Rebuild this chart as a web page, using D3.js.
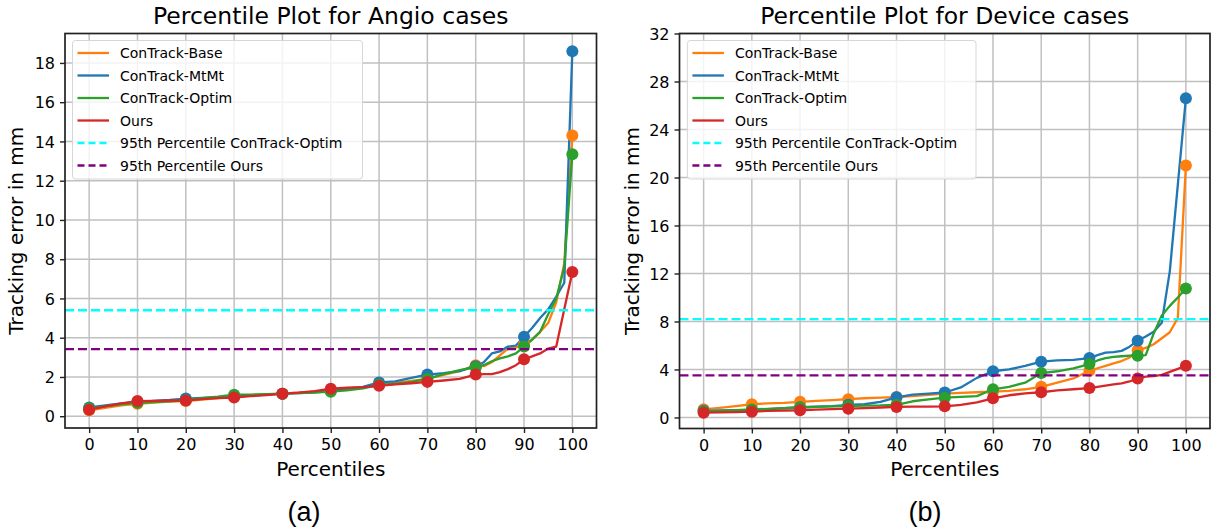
<!DOCTYPE html>
<html>
<head>
<meta charset="utf-8">
<script src="https://cdn.jsdelivr.net/npm/d3@7"></script>
<style>
  html, body { margin: 0; padding: 0; background: #fff; }
  svg { display: block; }
  text { font-family: "DejaVu Sans", sans-serif; fill: #000; }
</style>
</head>
<body>
<svg id="chart" width="1211" height="531"></svg>
<script>
// ---------------- data ----------------
const percentiles = [0,3.33,6.67,10,13.33,16.67,20,23.33,26.67,30,33.33,36.67,40,43.33,46.67,50,53.33,56.67,60,63.33,66.67,70,73.33,76.67,80,81.67,83.33,85,86.67,88.33,90,91.67,93.33,95,96.67,98.33,100];
const xTicks = [0,10,20,30,40,50,60,70,80,90,100];
const seriesNames = ["ConTrack-Base","ConTrack-MtMt","ConTrack-Optim","Ours"];
const refNames = ["95th Percentile ConTrack-Optim","95th Percentile Ours"];

// Angio cases
const angioBase  = [0.30,0.42,0.55,0.63,0.70,0.74,0.77,0.85,0.92,1.00,1.05,1.10,1.15,1.20,1.25,1.30,1.38,1.47,1.60,1.70,1.80,1.90,2.10,2.30,2.60,2.55,2.75,3.10,3.45,3.50,3.65,3.90,4.30,4.75,5.80,7.80,14.30];
const angioMtMt  = [0.45,0.55,0.65,0.72,0.78,0.83,0.90,0.93,0.97,1.00,1.05,1.10,1.15,1.18,1.22,1.30,1.40,1.50,1.72,1.78,1.95,2.12,2.20,2.30,2.55,2.75,3.20,3.30,3.55,3.60,4.05,4.50,5.00,5.45,6.10,6.80,18.60];
const angioOptim = [0.40,0.50,0.60,0.68,0.72,0.76,0.82,0.92,1.00,1.10,1.10,1.13,1.15,1.18,1.20,1.25,1.32,1.42,1.60,1.65,1.75,1.90,2.15,2.35,2.50,2.60,2.80,2.95,3.05,3.20,3.55,3.90,4.30,5.20,6.00,7.60,13.35];
const angioOurs  = [0.33,0.50,0.65,0.77,0.78,0.80,0.80,0.87,0.92,0.95,1.02,1.08,1.15,1.20,1.28,1.40,1.45,1.48,1.55,1.62,1.68,1.75,1.82,1.90,2.12,2.15,2.15,2.25,2.40,2.60,2.90,3.05,3.20,3.45,3.55,5.45,7.35];
const angioYTicks = [0,2,4,6,8,10,12,14,16,18];
const angio95Optim = 5.4;
const angio95Ours = 3.42;

// Device cases
const deviceBase  = [0.68,0.80,0.95,1.10,1.18,1.22,1.30,1.38,1.45,1.52,1.60,1.65,1.70,1.78,1.88,1.98,2.05,2.10,2.15,2.22,2.35,2.55,2.90,3.25,3.90,4.10,4.30,4.50,4.70,5.00,5.60,5.80,6.10,6.60,7.10,8.30,21.00];
const deviceMtMt  = [0.55,0.58,0.60,0.62,0.70,0.78,0.85,0.90,0.95,1.05,1.10,1.30,1.68,1.90,1.98,2.08,2.50,3.30,3.85,4.00,4.30,4.65,4.75,4.80,4.95,5.20,5.40,5.45,5.55,5.90,6.40,6.75,7.15,7.90,12.20,19.40,26.60];
const deviceOptim = [0.50,0.55,0.60,0.67,0.72,0.78,0.83,0.88,0.92,0.95,0.98,1.00,1.05,1.35,1.50,1.65,1.72,1.78,2.35,2.55,2.90,3.70,3.85,4.10,4.45,4.75,4.95,5.05,5.10,5.15,5.15,5.20,7.00,8.50,9.30,10.00,10.75];
const deviceOurs  = [0.40,0.42,0.45,0.48,0.55,0.58,0.60,0.65,0.70,0.73,0.78,0.83,0.88,0.90,0.91,0.93,1.05,1.25,1.60,1.85,2.00,2.10,2.25,2.35,2.45,2.55,2.65,2.75,2.85,3.00,3.25,3.40,3.45,3.55,3.80,4.05,4.30];
const deviceYTicks = [0,4,8,12,16,20,24,28,32];
const device95Optim = 8.2;
const device95Ours = 3.51;

// ---------------- styles ----------------
const seriesColors = ["#ff7f0e","#1f77b4","#2ca02c","#d62728"];
const refColors = ["#00ffff","#800080"];

const panels = [
  { title: "Percentile Plot for Angio cases", caption: "(a)",
    series: [angioBase, angioMtMt, angioOptim, angioOurs],
    refs: [angio95Optim, angio95Ours], yTicks: angioYTicks, yDomain: [-0.6, 19.5],
    left: 65, right: 596.5, top: 33.5, bottom: 428, yLabelX: 23, captionX: 304,
    legendX: 72.5, legendW: 290 },
  { title: "Percentile Plot for Device cases", caption: "(b)",
    series: [deviceBase, deviceMtMt, deviceOptim, deviceOurs],
    refs: [device95Optim, device95Ours], yTicks: deviceYTicks, yDomain: [-0.92, 32],
    left: 679.5, right: 1210, top: 33.5, bottom: 428.5, yLabelX: 639, captionX: 925,
    legendX: 687.4, legendW: 288.6 }
];

const svg = d3.select("#chart");

panels.forEach(p => {
  const x = d3.scaleLinear().domain([-5, 105]).range([p.left, p.right]);
  const y = d3.scaleLinear().domain(p.yDomain).range([p.bottom, p.top]);
  const g = svg.append("g");

  // grid
  g.append("g").selectAll("line").data(xTicks).join("line")
    .attr("x1", d => x(d)).attr("x2", d => x(d))
    .attr("y1", p.top).attr("y2", p.bottom)
    .attr("stroke", "#c0c0c0").attr("stroke-width", 1.5);
  g.append("g").selectAll("line").data(p.yTicks).join("line")
    .attr("x1", p.left).attr("x2", p.right)
    .attr("y1", d => y(d)).attr("y2", d => y(d))
    .attr("stroke", "#c0c0c0").attr("stroke-width", 1.5);

  // axes
  const xAxis = d3.axisBottom(x).tickValues(xTicks).tickSize(5).tickPadding(5).tickFormat(d3.format("d"));
  const yAxis = d3.axisLeft(y).tickValues(p.yTicks).tickSize(5).tickPadding(5).tickFormat(d3.format("d"));
  const gx = g.append("g").attr("transform", `translate(0,${p.bottom})`).call(xAxis);
  const gy = g.append("g").attr("transform", `translate(${p.left},0)`).call(yAxis);
  [gx, gy].forEach(a => {
    a.select(".domain").remove();
    a.selectAll(".tick line").attr("stroke", "#222").attr("stroke-width", 1.4);
    a.selectAll(".tick text").attr("font-size", 16).attr("font-family", "DejaVu Sans").attr("fill", "#000");
  });
  gx.selectAll(".tick text").attr("dy", null).attr("y", 22);
  gy.selectAll(".tick text").attr("dy", "0.36em");

  // series lines
  const line = d3.line().x((d, i) => x(percentiles[i])).y(d => y(d));
  p.series.forEach((s, k) => {
    g.append("path").datum(s).attr("d", line)
      .attr("fill", "none").attr("stroke", seriesColors[k]).attr("stroke-width", 2.3)
      .attr("stroke-linejoin", "round").attr("stroke-linecap", "round");
  });
  // markers
  p.series.forEach((s, k) => {
    const pts = percentiles.map((pc, i) => [pc, s[i]]).filter(d => xTicks.includes(d[0]));
    g.append("g").selectAll("circle").data(pts).join("circle")
      .attr("cx", d => x(d[0])).attr("cy", d => y(d[1])).attr("r", 6)
      .attr("fill", seriesColors[k]);
  });
  // reference lines
  p.refs.forEach((v, k) => {
    g.append("line").attr("x1", p.left).attr("x2", p.right)
      .attr("y1", y(v)).attr("y2", y(v))
      .attr("stroke", refColors[k]).attr("stroke-width", 2.3)
      .attr("stroke-dasharray", "9,4");
  });

  // spines
  g.append("rect").attr("x", p.left).attr("y", p.top)
    .attr("width", p.right - p.left).attr("height", p.bottom - p.top)
    .attr("fill", "none").attr("stroke", "#222").attr("stroke-width", 1.7);

  // legend
  const lg = g.append("g");
  const rowY0 = 53, rowStep = 22.5;
  lg.append("rect").attr("x", p.legendX).attr("y", 40.5)
    .attr("width", p.legendW).attr("height", 138.5).attr("rx", 3)
    .attr("fill", "rgba(255,255,255,0.8)").attr("stroke", "#d6d6d6").attr("stroke-width", 1);
  const entries = seriesNames.map((n, i) => ({ n, c: seriesColors[i], dash: null }))
    .concat(refNames.map((n, i) => ({ n, c: refColors[i], dash: "7,4" })));
  entries.forEach((e, i) => {
    const yy = rowY0 + i * rowStep;
    lg.append("line").attr("x1", p.legendX + 5).attr("x2", p.legendX + 36.5)
      .attr("y1", yy).attr("y2", yy).attr("stroke", e.c).attr("stroke-width", 2.3)
      .attr("stroke-dasharray", e.dash);
    lg.append("text").attr("x", p.legendX + 47.5).attr("y", yy + 5)
      .attr("font-size", 14).text(e.n);
  });

  // titles & labels
  g.append("text").attr("x", (p.left + p.right) / 2).attr("y", 24)
    .attr("text-anchor", "middle").attr("font-size", 23.5).text(p.title);
  g.append("text").attr("x", (p.left + p.right) / 2).attr("y", 476)
    .attr("text-anchor", "middle").attr("font-size", 20).text("Percentiles");
  g.append("text").attr("transform", `translate(${p.yLabelX},${(p.top + p.bottom) / 2}) rotate(-90)`)
    .attr("text-anchor", "middle").attr("font-size", 20).text("Tracking error in mm");
  g.append("text").attr("x", p.captionX).attr("y", 521)
    .attr("text-anchor", "middle").attr("font-size", 27)
    .style("font-family", "'Liberation Sans', Arial, sans-serif").text(p.caption);
});
</script>
</body>
</html>
